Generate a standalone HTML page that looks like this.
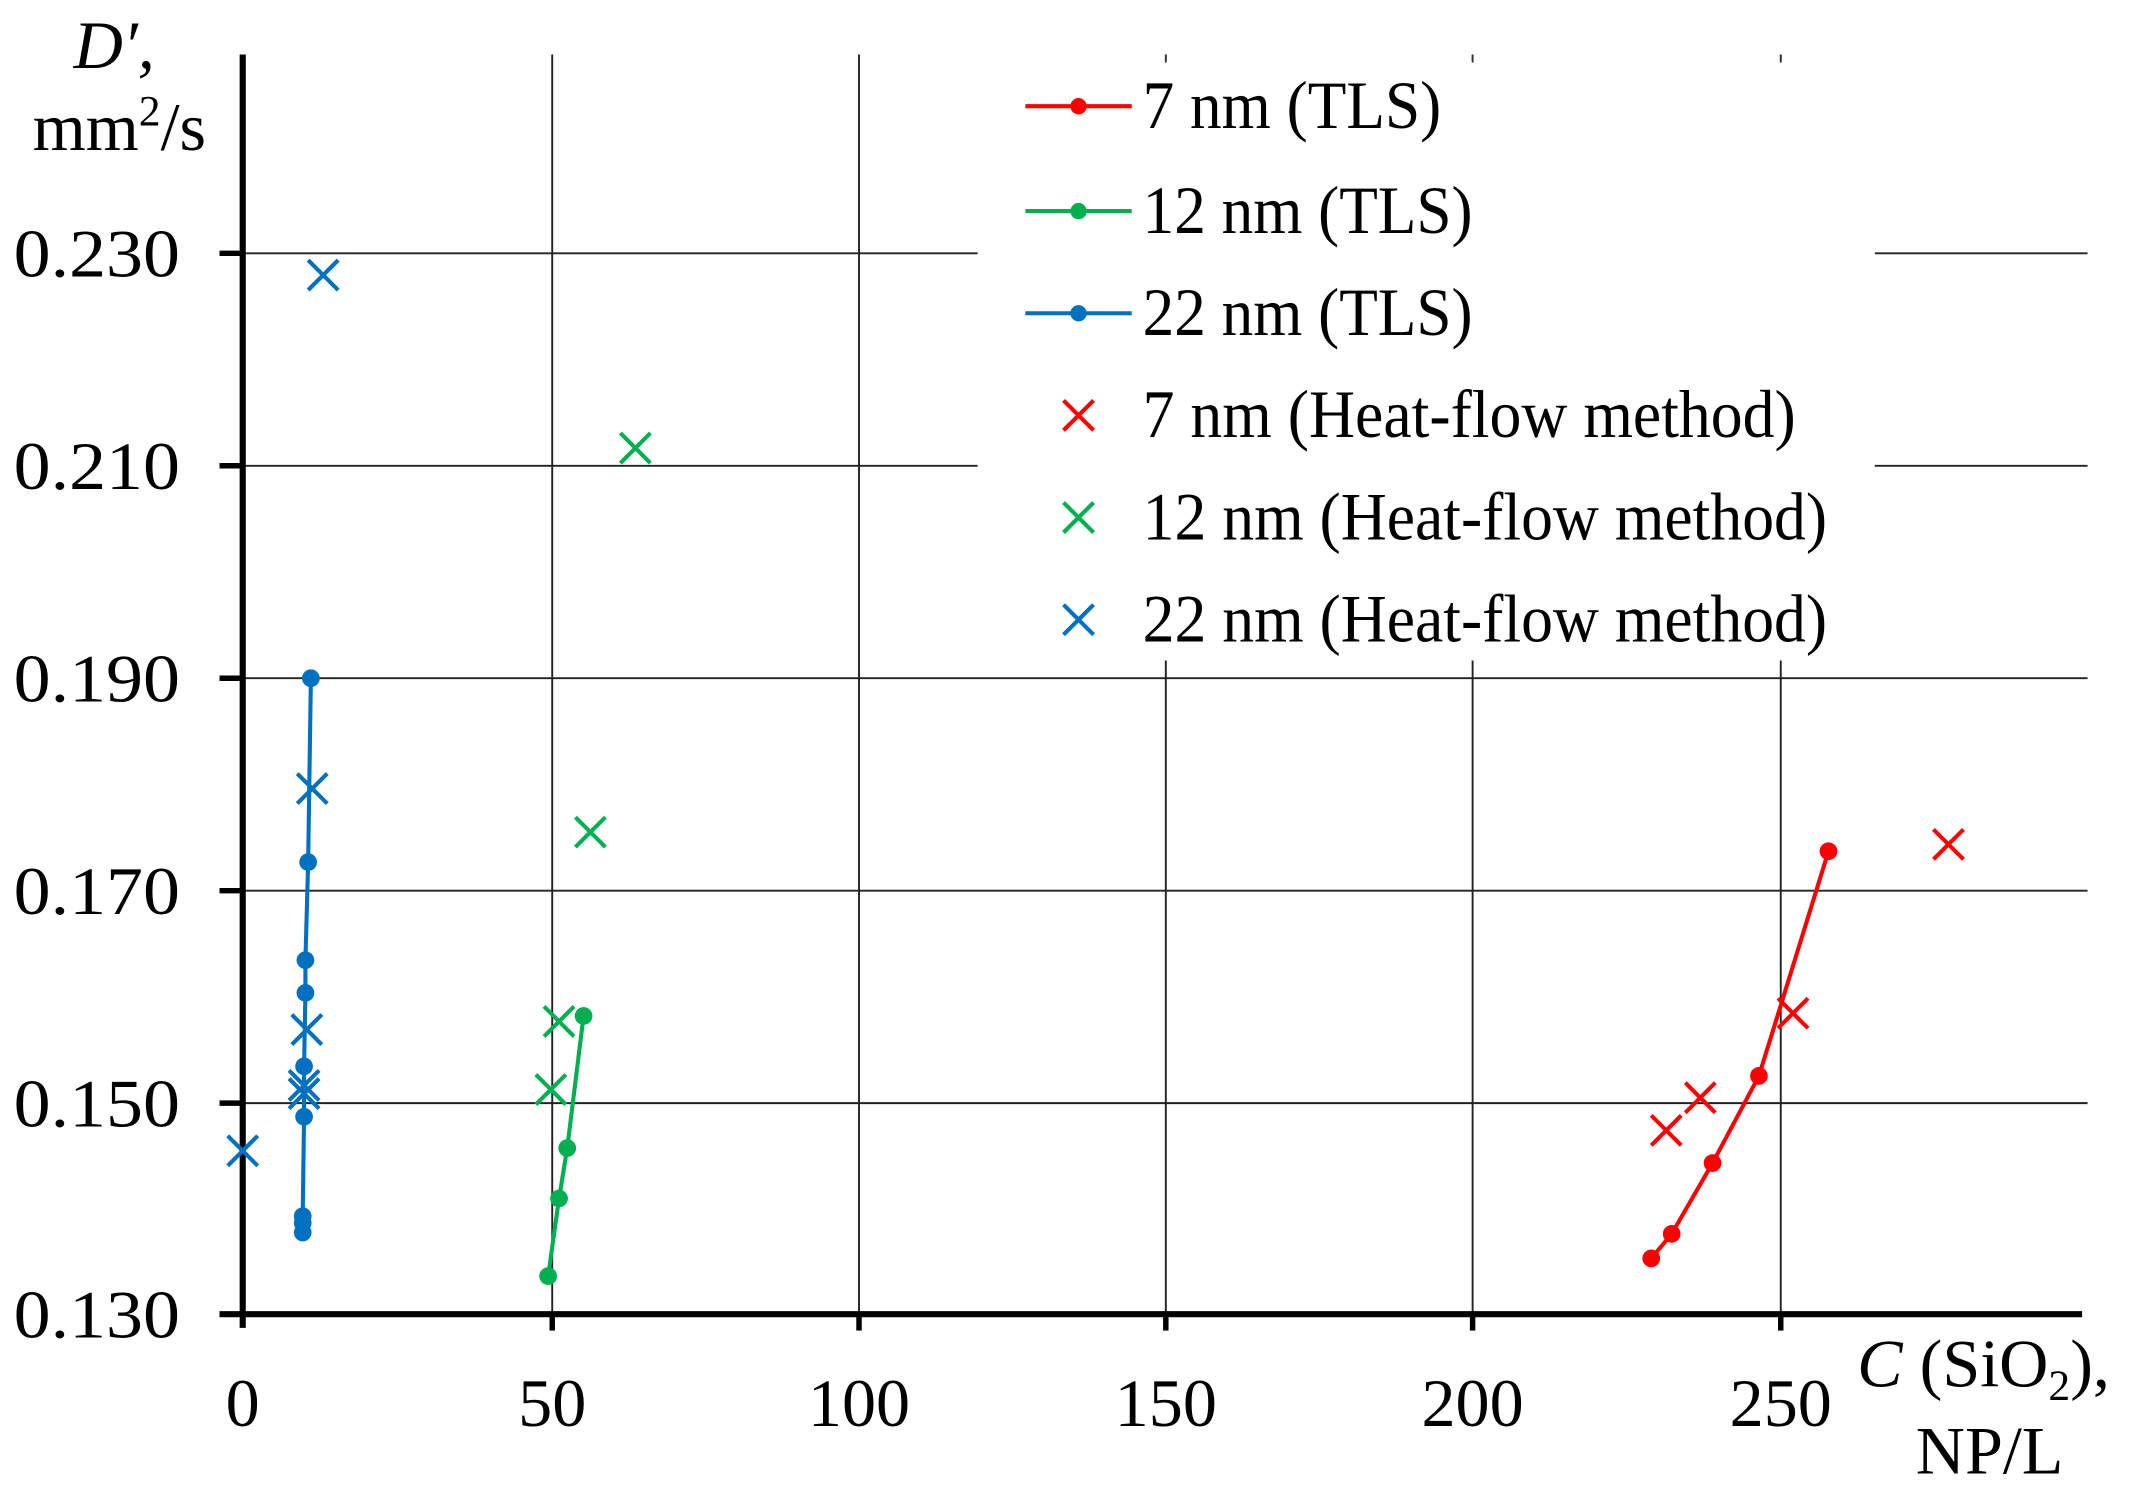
<!DOCTYPE html>
<html><head><meta charset="utf-8"><style>
html,body{margin:0;padding:0;background:#fff;}
svg{display:block;}
text{font-family:"Liberation Serif",serif;fill:#000;}
</style></head><body>
<svg width="2138" height="1494" viewBox="0 0 1568 1097" preserveAspectRatio="none" xmlns="http://www.w3.org/2000/svg">
<rect width="1568" height="1097" fill="#fff"/>
<g stroke="#222" stroke-width="1.4">
<line x1="178" y1="810" x2="1531" y2="810"/>
<line x1="178" y1="654" x2="1531" y2="654"/>
<line x1="178" y1="498" x2="1531" y2="498"/>
<line x1="178" y1="342" x2="1531" y2="342"/>
<line x1="178" y1="186" x2="1531" y2="186"/>
<line x1="405" y1="40" x2="405" y2="965"/>
<line x1="630" y1="40" x2="630" y2="965"/>
<line x1="855" y1="40" x2="855" y2="965"/>
<line x1="1080" y1="40" x2="1080" y2="965"/>
<line x1="1306" y1="40" x2="1306" y2="965"/>
</g>
<rect x="717" y="45" width="658" height="440" fill="#fff"/>
<g stroke="#333" stroke-width="1.2">
<line x1="855" y1="40" x2="855" y2="46"/><line x1="1080" y1="40" x2="1080" y2="46"/><line x1="1306" y1="40" x2="1306" y2="46"/>
</g>
<g stroke="#000">
<line x1="178" y1="40" x2="178" y2="975" stroke-width="4.5"/>
<line x1="161" y1="965" x2="1527" y2="965" stroke-width="4.5"/>
<g stroke-width="4">
<line x1="161" y1="810" x2="178" y2="810"/><line x1="161" y1="654" x2="178" y2="654"/>
<line x1="161" y1="498" x2="178" y2="498"/><line x1="161" y1="342" x2="178" y2="342"/>
<line x1="161" y1="186" x2="178" y2="186"/>
<line x1="405" y1="965" x2="405" y2="977"/><line x1="630" y1="965" x2="630" y2="977"/>
<line x1="855" y1="965" x2="855" y2="977"/><line x1="1080" y1="965" x2="1080" y2="977"/>
<line x1="1306" y1="965" x2="1306" y2="977"/>
</g></g>
<g font-size="50">
<text x="10" y="982" textLength="122" lengthAdjust="spacingAndGlyphs">0.130</text>
<text x="10" y="827" textLength="122" lengthAdjust="spacingAndGlyphs">0.150</text>
<text x="10" y="671" textLength="122" lengthAdjust="spacingAndGlyphs">0.170</text>
<text x="10" y="515" textLength="122" lengthAdjust="spacingAndGlyphs">0.190</text>
<text x="10" y="359" textLength="122" lengthAdjust="spacingAndGlyphs">0.210</text>
<text x="10" y="203" textLength="122" lengthAdjust="spacingAndGlyphs">0.230</text>
</g>
<g font-size="50" text-anchor="middle">
<text x="178" y="1047">0</text><text x="405" y="1047">50</text><text x="630" y="1047">100</text>
<text x="855" y="1047">150</text><text x="1080" y="1047">200</text><text x="1306" y="1047">250</text>
</g>
<text x="54" y="50" font-size="50" font-style="italic">D′,</text>
<text x="24" y="110" font-size="50">mm<tspan font-size="32" dy="-18">2</tspan><tspan dy="18">/s</tspan></text>
<text x="1362" y="1018" font-size="50"><tspan font-style="italic">C</tspan> (SiO<tspan font-size="32" dy="10">2</tspan><tspan dy="-10">),</tspan></text>
<text x="1405" y="1082" font-size="50">NP/L</text>
<g font-size="50">
<line x1="752" y1="78" x2="830" y2="78" stroke="#f00" stroke-width="3"/><circle cx="791" cy="78" r="6" fill="#f00"/>
<text x="838" y="94" textLength="219" lengthAdjust="spacingAndGlyphs">7 nm (TLS)</text>
<line x1="752" y1="155" x2="830" y2="155" stroke="#00b050" stroke-width="3"/><circle cx="791" cy="155" r="6" fill="#00b050"/>
<text x="838" y="171" textLength="242" lengthAdjust="spacingAndGlyphs">12 nm (TLS)</text>
<line x1="752" y1="230" x2="830" y2="230" stroke="#0070c0" stroke-width="3"/><circle cx="791" cy="230" r="6" fill="#0070c0"/>
<text x="838" y="246" textLength="242" lengthAdjust="spacingAndGlyphs">22 nm (TLS)</text>
<text x="838" y="321" textLength="479" lengthAdjust="spacingAndGlyphs">7 nm (Heat-flow method)</text>
<text x="838" y="396" textLength="502" lengthAdjust="spacingAndGlyphs">12 nm (Heat-flow method)</text>
<text x="838" y="471" textLength="502" lengthAdjust="spacingAndGlyphs">22 nm (Heat-flow method)</text>
</g>
<defs>
<path id="x" d="M-11,-11L11,11M-11,11L11,-11" stroke-width="3"/>
</defs>
<g stroke="#f00"><use href="#x" x="791" y="305"/></g>
<g stroke="#00b050"><use href="#x" x="791" y="380"/></g>
<g stroke="#0070c0"><use href="#x" x="791" y="455"/></g>
<g fill="#0070c0">
<polyline points="228,498 226,633 224,705 224,729 223,783 223,820 222,893 222,898 222,905" fill="none" stroke="#0070c0" stroke-width="3"/>
<circle cx="228" cy="498" r="6.5"/><circle cx="226" cy="633" r="6.5"/><circle cx="224" cy="705" r="6.5"/>
<circle cx="224" cy="729" r="6.5"/><circle cx="223" cy="783" r="6.5"/><circle cx="223" cy="820" r="6.5"/>
<circle cx="222" cy="893" r="6.5"/><circle cx="222" cy="898" r="6.5"/><circle cx="222" cy="905" r="6.5"/>
</g>
<g stroke="#0070c0">
<use href="#x" x="237" y="202"/><use href="#x" x="229" y="579"/><use href="#x" x="225" y="756"/>
<use href="#x" x="223" y="797"/><use href="#x" x="223" y="803"/><use href="#x" x="178" y="845"/>
</g>
<g fill="#00b050">
<polyline points="402,937 410,880 416,843 428,746 426,748" fill="none" stroke="#00b050" stroke-width="3"/>
<circle cx="402" cy="937" r="6.5"/><circle cx="410" cy="880" r="6.5"/><circle cx="416" cy="843" r="6.5"/>
<circle cx="428" cy="746" r="6.5"/>
</g>
<g stroke="#00b050">
<use href="#x" x="466" y="329"/><use href="#x" x="433" y="611"/><use href="#x" x="410" y="750"/><use href="#x" x="404" y="800"/>
</g>
<g fill="#f00">
<polyline points="1211,924 1226,906 1256,854 1290,790 1341,625" fill="none" stroke="#f00" stroke-width="3"/>
<circle cx="1211" cy="924" r="6.5"/><circle cx="1226" cy="906" r="6.5"/><circle cx="1256" cy="854" r="6.5"/>
<circle cx="1290" cy="790" r="6.5"/><circle cx="1341" cy="625" r="6.5"/>
</g>
<g stroke="#f00">
<use href="#x" x="1222" y="830"/><use href="#x" x="1247" y="806"/><use href="#x" x="1315" y="744"/><use href="#x" x="1429" y="620"/>
</g>
</svg>
</body></html>
